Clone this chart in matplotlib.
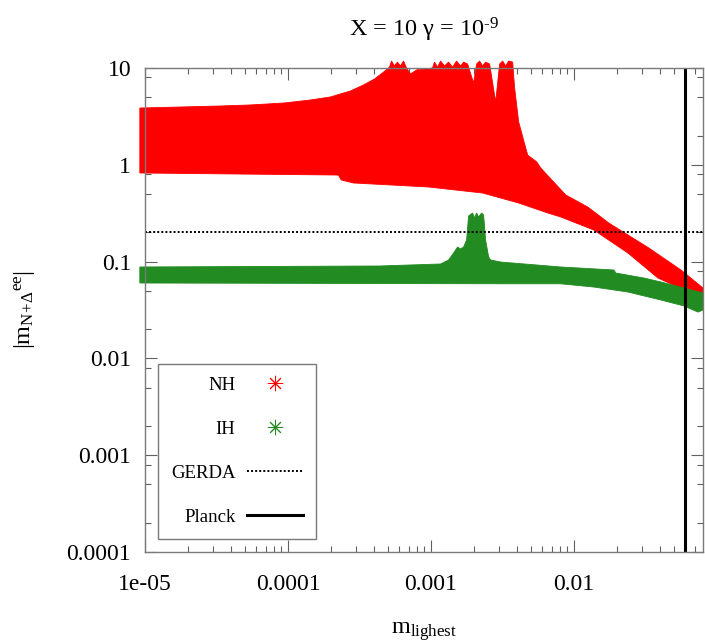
"""Effective Majorana mass |m_ee| versus lightest neutrino mass (NH / IH bands)."""

import matplotlib

matplotlib.use("Agg")

import matplotlib.pyplot as plt
import numpy as np
from matplotlib.lines import Line2D

# ---- data (eV) ------------------------------------------------------------
NH_UPPER_M = [9.2e-6, 3.35e-5, 5.44e-5, 9.4e-5, 1.434e-4, 1.979e-4, 2.733e-4,
              3.37e-4, 4.03e-4, 4.58e-4, 5.13e-4,
              5.30e-4, 5.56e-4, 5.83e-4, 6.12e-4, 6.43e-4, 6.75e-4, 7.19e-4,
              7.93e-4, 9.17e-4, 1.026e-3, 1.06e-3, 1.112e-3, 1.168e-3,
              1.245e-3, 1.328e-3, 1.417e-3, 1.511e-3, 1.612e-3, 1.692e-3,
              1.805e-3, 1.988e-3, 2.087e-3, 2.19e-3, 2.299e-3, 2.413e-3,
              2.574e-3, 2.836e-3, 3.025e-3, 3.175e-3, 3.33e-3, 3.50e-3,
              3.73e-3, 3.85e-3, 4.11e-3, 4.75e-3, 5.50e-3, 5.86e-3, 8.77e-3,
              1.252e-2, 1.757e-2, 3.35e-2, 5.61e-2, 8.0e-2]
NH_UPPER = [3.86, 4.05, 4.15, 4.35, 4.67, 5.02, 5.79,
            6.67, 7.70, 8.88, 10.2,
            11.8, 10.5, 11.5, 10.5, 11.8, 10.0, 8.67,
            9.54, 9.77, 10.0, 11.5, 10.2, 11.8,
            10.5, 11.5, 10.2, 11.8, 10.5, 11.5,
            11.0, 7.0, 11.0, 11.8, 10.5, 11.5,
            11.0, 4.45, 11.0, 11.8, 10.5, 11.8,
            11.5, 6.22, 2.77, 1.26, 1.07, 0.927, 0.488,
            0.366, 0.250, 0.138, 0.0819, 0.0534]
NH_LOWER_M = [9.2e-6, 2.25e-4, 2.36e-4, 2.87e-4, 9.62e-4, 2.299e-3, 4.11e-3,
              6.56e-3, 8.09e-3, 1.379e-2, 2.387e-2, 3.87e-2, 5.89e-2, 8.0e-2]
NH_LOWER = [0.823, 0.784, 0.697, 0.649, 0.590, 0.511, 0.403,
            0.318, 0.289, 0.212, 0.1227, 0.0677, 0.0509, 0.0431]

IH_UPPER_M = [9.2e-6, 4.4e-4, 1.168e-3, 1.328e-3, 1.44e-3, 1.536e-3, 1.612e-3,
              1.692e-3, 1.776e-3, 1.834e-3, 1.956e-3, 2.02e-3, 2.087e-3,
              2.156e-3, 2.262e-3, 2.336e-3, 2.413e-3, 2.533e-3, 2.616e-3,
              3.074e-3, 8.09e-3, 1.904e-2, 1.966e-2, 3.09e-2, 4.06e-2,
              5.89e-2, 8.0e-2]
IH_UPPER = [0.088, 0.0901, 0.0945, 0.1039, 0.1227, 0.1415, 0.135,
            0.1415, 0.167, 0.296, 0.318, 0.282, 0.318,
            0.289, 0.318, 0.303, 0.167, 0.1116, 0.1039,
            0.0990, 0.0880, 0.0819, 0.0762, 0.0677, 0.0616,
            0.0534, 0.0474]
IH_LOWER_M = [9.2e-6, 3.074e-3, 8.09e-3, 1.379e-2, 2.387e-2, 4.06e-2,
              5.89e-2, 7.38e-2, 8.0e-2]
IH_LOWER = [0.0601, 0.0590, 0.0590, 0.0546, 0.0485, 0.0401,
            0.0348, 0.0301, 0.0316]

GERDA_BOUND = 0.2
PLANCK_BOUND = 0.06

X_TICKS = [1e-5, 1e-4, 1e-3, 1e-2]
X_TICK_LABELS = ["1e-05", "0.0001", "0.001", "0.01"]
Y_TICKS = [1e-4, 1e-3, 1e-2, 1e-1, 1, 10]
Y_TICK_LABELS = ["0.0001", "0.001", "0.01", "0.1", "1", "10"]

RED = "#ff0000"
GREEN = "#228b22"
AXIS_GREY = "#7a7a7a"


def band(ax, m_up, v_up, m_lo, v_lo, color, zorder):
    """Fill the region between an upper and a lower edge."""
    xs = np.concatenate([m_up, m_lo[::-1]])
    ys = np.concatenate([v_up, v_lo[::-1]])
    ax.fill(xs, ys, color=color, lw=0.6, ec=color, zorder=zorder, clip_on=False)


def main():
    plt.rcParams["font.family"] = "Liberation Serif"
    plt.rcParams["mathtext.fontset"] = "custom"
    plt.rcParams["mathtext.rm"] = "Liberation Serif"
    plt.rcParams["mathtext.it"] = "Liberation Serif:italic"

    fig = plt.figure(figsize=(7.05, 6.44), dpi=100)
    ax = fig.add_axes([145 / 705, 92 / 644, 558 / 705, 484 / 644])

    band(ax, np.array(NH_UPPER_M), np.array(NH_UPPER),
         np.array(NH_LOWER_M), np.array(NH_LOWER), RED, 2)
    band(ax, np.array(IH_UPPER_M), np.array(IH_UPPER),
         np.array(IH_LOWER_M), np.array(IH_LOWER), GREEN, 3)

    ax.axhline(GERDA_BOUND, color="black", lw=1.4, ls=(0, (1, 1.1)), zorder=4)
    ax.axvline(PLANCK_BOUND, color="black", lw=2.2, zorder=5)

    ax.set_xscale("log")
    ax.set_yscale("log")
    ax.set_xlim(1e-5, 0.08)
    ax.set_ylim(1e-4, 10)

    ax.set_xticks(X_TICKS, X_TICK_LABELS)
    ax.set_yticks(Y_TICKS, Y_TICK_LABELS)
    x_minor = [k * 10.0 ** d for d in range(-5, -1) for k in range(2, 10)]
    ax.set_xticks([v for v in x_minor if v < 0.08], minor=True)
    y_minor = [k * 10.0 ** d for d in range(-4, 1) for k in (2, 5, 8)]
    ax.set_yticks(y_minor, minor=True)
    ax.xaxis.set_minor_formatter(plt.NullFormatter())
    ax.yaxis.set_minor_formatter(plt.NullFormatter())

    ax.tick_params(which="both", direction="in", top=True, right=True,
                   color="#606060", width=0.8, labelsize=17)
    ax.tick_params(which="major", length=8.6)
    ax.tick_params(which="minor", length=4.3)
    ax.tick_params(axis="x", pad=16)
    ax.tick_params(axis="y", pad=10)
    for spine in ax.spines.values():
        spine.set_color(AXIS_GREY)
        spine.set_linewidth(1.0)
        spine.set_zorder(6)

    ax.set_title("X = 10 \u03b3 = 10$^{\\text{-9}}$", fontsize=17.5, pad=23)
    ax.set_xlabel(r"$\mathrm{m_{lighest}}$", fontsize=17.5)
    ax.xaxis.set_label_coords(0.5, -0.14)
    ax.set_ylabel(r"$\mathrm{|m_{N\!+\!\Delta}{}^{ee}|}$", fontsize=17.5)
    ax.yaxis.set_label_coords(-0.193, 0.5)

    handles = [
        Line2D([], [], color=RED, marker=(8, 2, 0), ls="none",
               markersize=11, markeredgewidth=0.7),
        Line2D([], [], color=GREEN, marker=(8, 2, 0), ls="none",
               markersize=11, markeredgewidth=0.7),
        Line2D([], [], color="black", lw=1.4, ls=(0, (1, 1.1))),
        Line2D([], [], color="black", lw=2.2),
    ]
    leg = ax.legend(handles, ["NH", "IH", "GERDA", "Planck"],
                    loc="lower left", bbox_to_anchor=(0.023, 0.027),
                    borderaxespad=0, markerfirst=False, fontsize=13.5,
                    handlelength=3.0, handletextpad=0.6, labelspacing=1.43,
                    borderpad=0.7, fancybox=False, framealpha=1,
                    edgecolor=AXIS_GREY, numpoints=1)
    leg.get_frame().set_linewidth(1.0)
    leg.set_zorder(7)

    fig.savefig("out.png", dpi=100)
    plt.close(fig)


if __name__ == "__main__":
    main()
